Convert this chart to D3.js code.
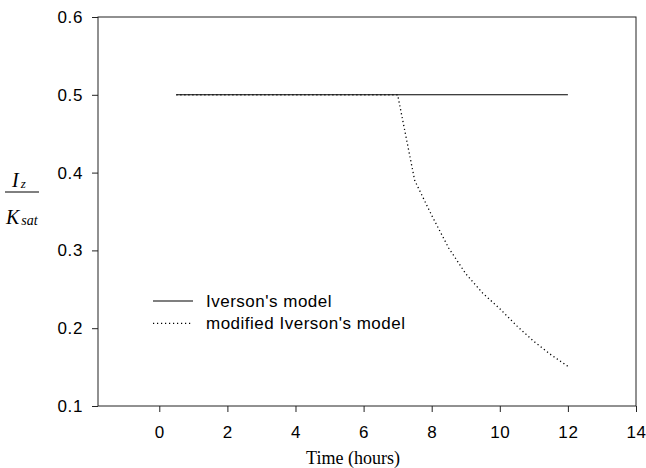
<!DOCTYPE html>
<html>
<head>
<meta charset="utf-8">
<script src="https://cdn.jsdelivr.net/npm/d3@7"></script>
<style>
  body { margin: 0; background: #fff; }
  svg { display: block; }
</style>
</head>
<body>
<svg id="chart" width="646" height="468"></svg>
<script>
// data
const xTicks = [0, 2, 4, 6, 8, 10, 12, 14];
const yTicks = [0.1, 0.2, 0.3, 0.4, 0.5, 0.6];

const iversonTime = [0.5, 12];
const iversonRatio = [0.5, 0.5];

const modifiedTime = [0.5, 7, 7.5, 8, 8.5, 9, 9.5, 10, 10.5, 11, 11.5, 12];
const modifiedRatio = [0.5, 0.5, 0.39, 0.345, 0.303, 0.27, 0.245, 0.225, 0.203, 0.183, 0.166, 0.151];

const legendLabels = ["Iverson's model", "modified Iverson's model"];

const svg = d3.select("#chart"),
    margin = { top: 17, right: 10, bottom: 62, left: 98 },
    width = 646 - margin.left - margin.right,
    height = 468 - margin.top - margin.bottom,
    g = svg.append("g").attr("transform", "translate(" + margin.left + "," + margin.top + ")");

const x = d3.scaleLinear().domain([-1.8, 14]).range([0, width]);
const y = d3.scaleLinear().domain([0.1, 0.6]).range([height, 0]);

const line = d3.line()
    .x(d => x(d[0]))
    .y(d => y(d[1]));

// frame
g.append("rect")
    .attr("width", width)
    .attr("height", height)
    .attr("fill", "none")
    .attr("stroke", "#222")
    .attr("stroke-width", 1);

// x axis
const xAxis = g.append("g")
    .attr("transform", "translate(0," + height + ")")
    .call(d3.axisBottom(x).tickValues(xTicks).tickSize(6).tickPadding(14).tickFormat(d3.format("d")));
xAxis.select(".domain").remove();

// y axis
const yAxis = g.append("g")
    .call(d3.axisLeft(y).tickValues(yTicks).tickSize(6).tickPadding(9).tickFormat(d3.format(".1f")));
yAxis.select(".domain").remove();

svg.selectAll(".tick line").attr("stroke", "#222");
svg.selectAll(".tick text")
    .attr("fill", "#000")
    .attr("font-family", "Liberation Sans, Arial, sans-serif")
    .attr("font-size", "17px")
    .attr("letter-spacing", "0.6px");

// x axis title
svg.append("text")
    .attr("x", 353)
    .attr("y", 464)
    .attr("text-anchor", "middle")
    .attr("font-family", "Liberation Serif, Times New Roman, serif")
    .attr("font-size", "18px")
    .text("Time (hours)");

// y axis title as a fraction
const frac = svg.append("g")
    .attr("font-family", "Liberation Serif, Times New Roman, serif")
    .attr("font-style", "italic");
const num = frac.append("text").attr("x", 12).attr("y", 187).attr("font-size", "20px");
num.append("tspan").text("I");
num.append("tspan").attr("font-size", "13px").attr("dy", 1).attr("dx", 2).text("z");
frac.append("line")
    .attr("x1", 5).attr("x2", 39)
    .attr("y1", 192).attr("y2", 192)
    .attr("stroke", "#000").attr("stroke-width", 1);
const den = frac.append("text").attr("x", 6).attr("y", 224).attr("font-size", "20px");
den.append("tspan").text("K");
den.append("tspan").attr("font-size", "14px").attr("dy", 1).attr("dx", 2).text("sat");

// series
g.append("path")
    .datum(d3.zip(iversonTime, iversonRatio))
    .attr("d", line)
    .attr("fill", "none")
    .attr("stroke", "#000")
    .attr("stroke-width", 1.1);

g.append("path")
    .datum(d3.zip(modifiedTime, modifiedRatio))
    .attr("d", line)
    .attr("fill", "none")
    .attr("stroke", "#000")
    .attr("stroke-width", 1.3)
    .attr("stroke-dasharray", "1.2,2.8");

// legend
const legend = g.append("g").attr("transform", "translate(" + (153 - margin.left) + "," + (301 - margin.top) + ")");
legendLabels.forEach((label, i) => {
    const row = legend.append("g").attr("transform", "translate(0," + (i * 22.3) + ")");
    row.append("line")
        .attr("x1", 0).attr("x2", 40)
        .attr("stroke", "#000")
        .attr("stroke-width", i === 0 ? 1.1 : 1.3)
        .attr("stroke-dasharray", i === 0 ? null : "1.2,2.8");
    row.append("text")
        .attr("x", 53)
        .attr("dy", "0.35em")
        .attr("font-family", "Liberation Sans, Arial, sans-serif")
        .attr("font-size", "17px")
        .attr("letter-spacing", "0.5px")
        .text(label);
});
</script>
</body>
</html>
